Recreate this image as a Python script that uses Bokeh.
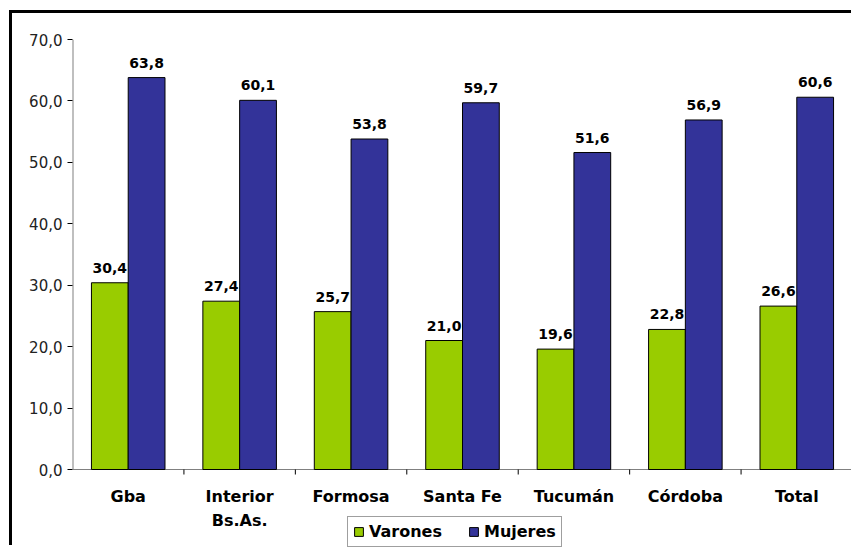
from bokeh.plotting import figure
from bokeh.models import FixedTicker, ColumnDataSource, Legend, LegendItem, Range1d
from bokeh.core.properties import value
from bokeh.embed import file_html
from bokeh.resources import INLINE

categories = ["Gba", "Interior\nBs.As.", "Formosa", "Santa Fe", "Tucumán", "Córdoba", "Total"]
varones = [30.4, 27.4, 25.7, 21.0, 19.6, 22.8, 26.6]
mujeres = [63.8, 60.1, 53.8, 59.7, 51.6, 56.9, 60.6]
y_ticks = [0, 10, 20, 30, 40, 50, 60, 70]

GREEN = "#99CC00"
NAVY = "#333399"
AXIS_GRAY = "#808080"
FONT = "DejaVu Sans"

# layout (pixels)
W, H = 842, 535
B_LEFT, B_RIGHT, B_TOP, B_BOTTOM = 60, 2, 26, 0
PLOT_H = 430          # pixels from 0 to 70
EXTRA_BELOW = 79      # frame space below the zero line (labels + legend)
YMAX = 70
ppu = PLOT_H / YMAX
ymin = -EXTRA_BELOW / ppu

n = len(categories)
centers = [i + 0.5 for i in range(n)]
bounds = list(range(n + 1))
bw = 0.33
xv = [c - bw / 2 for c in centers]
xm = [c + bw / 2 for c in centers]

def fmt(v):
    return f"{v:.1f}".replace(".", ",")

src_v = ColumnDataSource(dict(x=xv, top=varones, lab=[fmt(v) for v in varones]))
src_m = ColumnDataSource(dict(x=xm, top=mujeres, lab=[fmt(v) for v in mujeres]))
src_c = ColumnDataSource(dict(x=centers, y=[0] * n, lab=categories))

p = figure(width=W, height=H, output_backend="svg", toolbar_location=None,
           x_range=Range1d(0, n), y_range=Range1d(ymin, YMAX),
           x_axis_location=None,
           min_border_left=B_LEFT, min_border_right=B_RIGHT,
           min_border_top=B_TOP, min_border_bottom=B_BOTTOM)
p.styles = {"margin-left": "9px", "margin-top": "10px",
            "border-left": "3px solid black", "border-top": "3px solid black"}
p.outline_line_color = None
p.xgrid.grid_line_color = None
p.ygrid.grid_line_color = None
p.background_fill_color = "white"
p.border_fill_color = "white"

# x axis line and boundary ticks (drawn through the data scales)
tick_len = 5 / ppu
p.segment(x0=[0], y0=[0], x1=[n], y1=[0], line_color=AXIS_GRAY, line_width=1)
p.segment(x0=bounds[1:], y0=[0] * n, x1=bounds[1:], y1=[-tick_len] * n,
          line_color="black", line_width=1)
# y axis line from 0 to 70
p.segment(x0=[0], y0=[0], x1=[0], y1=[YMAX], line_color=AXIS_GRAY, line_width=2)

rv = p.vbar(x="x", top="top", width=bw, bottom=0, source=src_v,
            fill_color=GREEN, line_color="black", line_width=1)
rm = p.vbar(x="x", top="top", width=bw, bottom=0, source=src_m,
            fill_color=NAVY, line_color="black", line_width=1)

for s in (src_v, src_m):
    p.text(x="x", y="top", text="lab", source=s, text_align="center",
           text_baseline="bottom", y_offset=-10, text_font=value(FONT),
           text_font_style="bold", text_font_size="14px", text_color="black")

# category labels
p.text(x="x", y="y", text="lab", source=src_c, text_align="center",
       text_baseline="top", y_offset=17, text_font=value(FONT),
       text_font_style="bold", text_font_size="16px", text_color="black",
       text_line_height=1.3)

# Y axis
ya = p.yaxis[0]
ya.ticker = FixedTicker(ticks=y_ticks)
ya.major_label_overrides = {t: fmt(t) for t in y_ticks}
ya.major_label_text_font = FONT
ya.major_label_text_font_size = "15px"
ya.major_label_text_color = "#222222"
ya.major_tick_out = 5
ya.major_tick_in = 0
ya.minor_tick_line_color = None
ya.axis_line_color = None
ya.major_tick_line_color = "black"
ya.major_label_standoff = 5

legend = Legend(items=[LegendItem(label="Varones", renderers=[rv]),
                       LegendItem(label="Mujeres", renderers=[rm])],
                orientation="horizontal", location=(275, 1),
                label_text_font=FONT, label_text_font_style="bold",
                label_text_font_size="16px", label_text_color="black",
                glyph_width=11, glyph_height=11, label_standoff=5, spacing=26,
                padding=5, margin=0, border_line_color="#404040", border_line_width=1,
                label_height=16)
p.add_layout(legend, "center")

open("out.html", "w").write(file_html(p, INLINE))
